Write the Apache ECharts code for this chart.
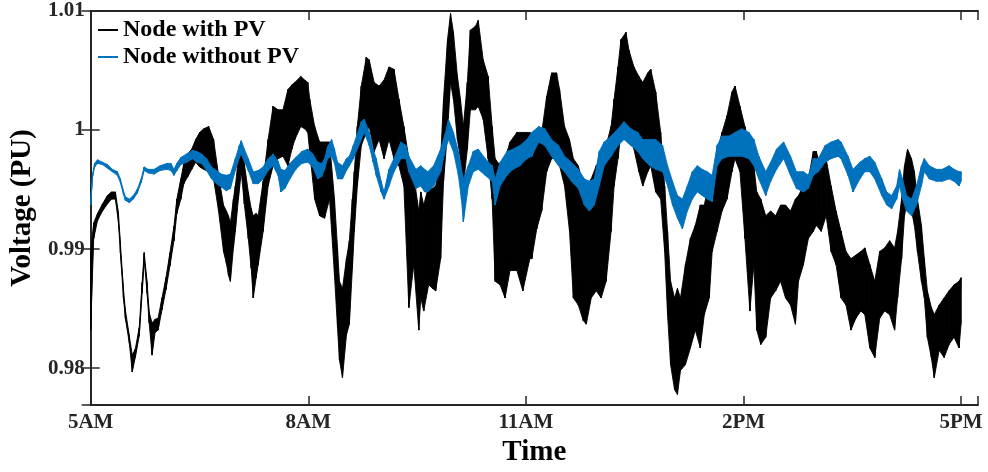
<!DOCTYPE html>
<html>
<head>
<meta charset="utf-8">
<script src="https://cdn.jsdelivr.net/npm/echarts@6/dist/echarts.min.js"></script>
<style>
html,body{margin:0;padding:0;background:#fff;}
#chart{width:988px;height:472px;}
</style>
</head>
<body>
<div id="chart"></div>
<script>
// Time in minutes after 5AM
var xTickLabels = {0:'5AM',180:'8AM',360:'11AM',540:'2PM',720:'5PM'};
var seriesNames = ['Node with PV','Node without PV'];

// Node with PV: sampled time and upper / lower envelope of the noisy trace (PU)
var blackT = [0,2.5,5.7,9.8,13.9,17.2,20.5,23.0,24.6,27.1,
28.7,32.0,34.4,36.9,40.2,42.6,44.3,46.7,48.4,50.8,
53.3,55.8,59.0,62.3,65.6,68.9,71.3,74.6,77.1,80.4,
83.6,86.9,90.2,93.5,97.6,101.7,105.8,109.9,112.3,114.0,
115.6,118.1,119.7,122.2,124.6,127.1,130.4,132.8,134.5,136.9,
138.6,142.7,146.8,150.9,155.0,159.1,163.2,166.5,168.9,173.8,
177.1,179.6,181.2,185.3,189.4,193.5,197.6,201.7,204.2,205.8,
208.3,211.6,214.0,216.5,218.1,220.6,223.9,228.0,230.4,234.5,
238.6,242.7,246.8,250.9,255.0,259.1,263.2,267.3,271.4,273.1,
275.5,279.6,282.9,285.4,289.5,291.9,295.2,297.7,300.1,303.4,
305.9,308.3,311.6,314.1,318.2,320.6,324.7,328.8,332.1,334.6,
338.7,342.8,346.9,352.6,357.5,363.3,364.9,369.0,373.1,377.2,
381.3,385.4,387.9,392.0,396.1,399.3,403.4,407.5,410.0,414.1,
418.2,422.3,426.4,430.5,433.0,436.2,438.7,442.8,445.3,449.4,
453.5,456.7,460.8,463.3,467.4,471.5,474.8,477.2,479.7,483.0,
485.4,487.9,492.0,496.1,500.2,504.3,507.6,511.7,514.1,518.2,
522.3,526.4,530.5,533.0,537.1,541.2,545.3,548.6,551.0,554.3,
558.4,562.5,566.6,570.7,574.8,578.9,583.0,585.5,589.6,593.7,
597.8,600.2,604.3,608.4,612.5,616.6,620.7,624.8,628.9,633.0,
637.1,640.4,644.5,648.6,652.7,656.8,660.9,665.0,667.5,670.8,
673.2,675.7,679.0,681.4,683.9,687.2,689.6,692.1,695.4,697.8,
701.9,706.0,710.1,714.2,718.3,720.0];
var blackHi = [.9898,.9922,.9930,.9938,.9945,.9948,.9948,.9930,.9905,.9867,
.9849,.9827,.9811,.9816,.9834,.9872,.9897,.9872,.9847,.9838,
.9841,.9842,.9859,.9876,.9897,.9919,.9942,.9959,.9972,.9980,
.9984,.9992,.9998,1.0001,1.0003,.9992,.9962,.9937,.9932,.9928,
.9922,.9942,.9953,.9976,.9990,.9972,.9948,.9934,.9928,.9930,
.9928,.9957,.9992,1.0020,1.0017,1.0017,1.0034,1.0038,1.0040,1.0045,
1.0042,1.0040,1.0026,1.0003,.9990,.9990,.9990,.9942,.9901,.9873,
.9867,.9892,.9907,.9942,.9965,1.0003,1.0037,1.0061,1.0059,1.0040,
1.0037,1.0042,1.0053,1.0051,1.0026,1.0003,.9976,.9962,.9932,.9948,
.9937,.9953,.9951,.9953,.9976,1.0026,1.0076,1.0098,1.0082,1.0045,
1.0026,1.0003,1.0040,1.0084,1.0087,1.0092,1.0059,1.0045,1.0003,.9976,
.9970,.9976,.9990,.9998,.9998,.9998,.9987,.9992,.9998,1.0028,
1.0048,1.0048,1.0034,1.0003,.9992,.9976,.9970,.9953,.9953,.9959,
.9970,.9976,.9987,1.0003,1.0026,1.0053,1.0076,1.0082,1.0067,1.0053,
1.0045,1.0040,1.0048,1.0051,1.0032,.9998,.9953,.9915,.9873,.9859,
.9867,.9859,.9887,.9909,.9920,.9937,.9937,.9957,.9957,.9982,
.9998,1.0012,1.0032,1.0037,1.0020,1.0003,.9984,.9970,.9948,.9942,
.9928,.9932,.9928,.9937,.9937,.9932,.9942,.9945,.9953,.9959,
.9982,.9982,.9967,.9976,.9953,.9932,.9915,.9898,.9892,.9895,
.9898,.9901,.9887,.9873,.9898,.9901,.9907,.9901,.9915,.9942,
.9970,.9984,.9976,.9965,.9942,.9920,.9892,.9865,.9851,.9845,
.9853,.9859,.9865,.9870,.9873,.9876];
var blackLo = [.9832,.9909,.9924,.9932,.9938,.9942,.9942,.9922,.9897,.9859,
.9842,.9821,.9797,.9809,.9827,.9863,.9891,.9863,.9838,.9811,
.9830,.9832,.9849,.9866,.9886,.9907,.9930,.9942,.9955,.9961,
.9967,.9973,.9969,.9967,.9965,.9959,.9932,.9898,.9888,.9878,
.9873,.9901,.9915,.9942,.9965,.9938,.9909,.9884,.9859,.9876,
.9887,.9915,.9953,.9970,.9976,.9978,.9970,.9984,.9992,1.0003,
1.0001,.9998,.9982,.9942,.9928,.9926,.9942,.9878,.9834,.9807,
.9792,.9828,.9837,.9884,.9915,.9953,.9987,.9998,1.0003,.9982,
.9992,.9976,.9992,.9976,.9970,.9953,.9851,.9887,.9832,.9859,
.9848,.9870,.9867,.9865,.9892,.9957,.9998,1.0040,1.0026,.9992,
.9976,.9953,.9984,1.0017,1.0017,1.0020,1.0009,.9976,.9942,.9873,
.9870,.9859,.9882,.9882,.9865,.9892,.9892,.9917,.9932,.9965,
.9976,.9978,.9970,.9953,.9915,.9859,.9853,.9840,.9837,.9859,
.9865,.9859,.9873,.9915,.9953,.9976,.9998,1.0003,.9998,.9984,
.9965,.9953,.9965,.9970,.9948,.9942,.9898,.9845,.9803,.9782,
.9778,.9798,.9803,.9817,.9832,.9817,.9845,.9859,.9898,.9915,
.9932,.9942,.9965,.9976,.9965,.9909,.9848,.9887,.9832,.9820,
.9826,.9859,.9865,.9873,.9859,.9853,.9837,.9873,.9887,.9909,
.9915,.9920,.9915,.9928,.9898,.9887,.9859,.9853,.9832,.9842,
.9848,.9845,.9817,.9809,.9842,.9848,.9845,.9832,.9859,.9892,
.9928,.9942,.9932,.9920,.9898,.9873,.9859,.9826,.9809,.9792,
.9815,.9809,.9820,.9826,.9817,.9837];

// Node without PV: sampled time and upper / lower envelope (PU)
var blueT = [0,1.6,3.3,5.7,9.8,13.9,18.0,22.1,24.6,27.1,
28.7,32.0,35.3,38.5,41.8,44.3,47.6,52.5,57.4,63.1,
66.4,68.9,71.3,74.6,79.5,84.5,87.7,91.8,95.9,100.0,
104.1,108.2,112.3,115.6,119.7,123.0,124.6,127.1,130.4,134.5,
138.6,142.7,146.8,150.9,155.0,157.4,160.7,164.8,169.7,174.7,
179.6,183.7,187.8,191.1,193.5,196.0,199.3,201.7,204.2,208.3,
211.6,214.0,217.3,220.6,223.9,226.3,230.4,233.7,236.2,240.3,
242.7,246.8,250.9,256.7,260.8,263.2,269.0,273.1,276.3,278.8,
283.7,289.5,293.6,296.0,300.1,304.2,306.7,308.3,312.4,316.5,
320.6,326.4,332.1,334.6,338.7,344.4,349.3,355.1,360.8,364.9,
370.6,375.6,381.3,387.0,392.0,397.7,403.4,408.4,412.5,416.6,
420.7,424.8,430.5,436.2,441.2,446.9,452.6,456.7,462.5,467.4,
473.1,477.2,481.3,485.4,489.5,493.6,497.7,501.8,505.9,510.0,
514.1,518.2,522.3,528.1,533.0,538.7,544.5,548.6,552.7,558.4,
562.5,567.4,573.2,578.9,583.8,589.6,593.7,597.8,601.9,607.6,
612.5,618.3,620.7,626.5,630.6,636.3,640.4,644.5,648.6,654.4,
658.5,662.6,666.7,669.1,671.6,674.9,679.0,683.1,687.2,689.6,
693.7,699.5,704.4,710.1,714.2,718.3,720.0];
var blueHi = [.9937,.9963,.9972,.9975,.9973,.9971,.9967,.9965,.9959,.9949,
.9944,.9942,.9945,.9950,.9959,.9969,.9967,.9967,.9970,.9972,
.9972,.9967,.9972,.9977,.9980,.9983,.9982,.9980,.9976,.9969,
.9966,.9963,.9962,.9963,.9976,.9987,.9991,.9984,.9976,.9965,
.9966,.9969,.9976,.9980,.9974,.9967,.9966,.9972,.9977,.9982,
.9984,.9980,.9973,.9972,.9976,.9986,.9992,.9984,.9973,.9970,
.9976,.9978,.9987,.9997,1.0007,1.0009,.9998,.9984,.9976,.9957,
.9948,.9967,.9976,.9990,.9987,.9978,.9967,.9970,.9967,.9965,
.9970,.9984,.9998,1.0009,.9998,.9982,.9967,.9959,.9970,.9982,
.9984,.9976,.9970,.9959,.9973,.9982,.9984,.9987,.9992,.9998,
1.0003,1.0001,.9992,.9987,.9978,.9973,.9967,.9959,.9957,.9959,
.9982,.9990,.9995,1.0001,1.0007,1.0001,.9998,.9992,.9992,.9992,
.9987,.9970,.9957,.9945,.9942,.9953,.9965,.9970,.9967,.9965,
.9962,.9987,.9995,.9995,.9998,1.0001,.9998,.9992,.9978,.9965,
.9973,.9984,.9990,.9978,.9965,.9965,.9962,.9976,.9976,.9987,
.9990,.9992,.9990,.9978,.9967,.9973,.9976,.9978,.9973,.9959,
.9948,.9945,.9953,.9967,.9959,.9945,.9942,.9953,.9970,.9976,
.9970,.9967,.9967,.9970,.9967,.9965,.9965];
var blueLo = [.9937,.9961,.9969,.9972,.9971,.9968,.9965,.9962,.9956,.9946,
.9941,.9939,.9942,.9947,.9956,.9966,.9964,.9963,.9966,.9967,
.9966,.9962,.9966,.9971,.9973,.9976,.9973,.9972,.9966,.9959,
.9955,.9952,.9949,.9951,.9966,.9977,.9980,.9974,.9966,.9955,
.9955,.9959,.9966,.9970,.9962,.9948,.9951,.9959,.9967,.9972,
.9973,.9969,.9959,.9961,.9967,.9976,.9978,.9972,.9959,.9959,
.9966,.9970,.9976,.9984,.9992,.9998,.9987,.9973,.9962,.9948,
.9942,.9953,.9965,.9976,.9976,.9965,.9951,.9953,.9948,.9948,
.9953,.9965,.9984,.9992,.9982,.9962,.9942,.9923,.9953,.9965,
.9967,.9962,.9957,.9937,.9953,.9962,.9967,.9970,.9976,.9978,
.9990,.9987,.9978,.9970,.9965,.9957,.9951,.9937,.9932,.9937,
.9953,.9970,.9978,.9987,.9992,.9987,.9982,.9976,.9970,.9967,
.9965,.9953,.9937,.9926,.9917,.9932,.9942,.9948,.9945,.9942,
.9940,.9970,.9976,.9978,.9978,.9978,.9976,.9970,.9959,.9945,
.9957,.9967,.9976,.9962,.9951,.9948,.9951,.9962,.9965,.9973,
.9976,.9978,.9976,.9962,.9948,.9959,.9965,.9965,.9959,.9945,
.9937,.9934,.9942,.9953,.9942,.9932,.9928,.9937,.9953,.9965,
.9959,.9957,.9957,.9959,.9957,.9953,.9957];

var FONT = 'Liberation Serif';
var BLACK = '#000000';
var BLUE = '#0072BD';
var AXIS = '#262626';

function bandData(t, hi, lo) {
  var n = Math.min(t.length, hi.length, lo.length), out = [];
  for (var i = 0; i < n - 1; i++) out.push([t[i], hi[i], lo[i], t[i+1], hi[i+1], lo[i+1]]);
  return out;
}
function zigzag(t, hi, lo) {
  var n = Math.min(t.length, hi.length, lo.length), out = [];
  for (var i = 0; i < n; i++) { out.push([t[i], hi[i]]); out.push([t[i], lo[i]]); }
  return out;
}
function bandRenderer(color) {
  return function (params, api) {
    var a = api.coord([api.value(0), api.value(1)]);
    var b = api.coord([api.value(3), api.value(4)]);
    var c = api.coord([api.value(3), api.value(5)]);
    var d = api.coord([api.value(0), api.value(2)]);
    return {type: 'polygon', shape: {points: [a, b, c, d]},
      style: {fill: color, stroke: color, lineWidth: 0.9}};
  };
}

var chart = echarts.init(document.getElementById('chart'), null, {renderer: 'canvas'});
var tickLabelStyle = {fontFamily: FONT, fontWeight: 'bold', fontSize: 21, color: AXIS};
chart.setOption({
  animation: false,
  backgroundColor: '#fff',
  grid: {left: 83, right: 10, top: 11, bottom: 65, containLabel: false},
  legend: {
    data: seriesNames, orient: 'vertical', left: 98, top: 18, padding: 0,
    itemGap: 3, itemWidth: 20, itemHeight: 2, icon: 'rect',
    textStyle: {fontFamily: FONT, fontWeight: 'bold', fontSize: 24, color: '#000', lineHeight: 24}
  },
  xAxis: [{
    type: 'value', min: 0, max: 734, interval: 180, position: 'bottom',
    axisLine: {show: true, lineStyle: {color: AXIS, width: 2}},
    axisTick: {show: true, inside: true, length: 9, lineStyle: {color: AXIS, width: 1.5}},
    axisLabel: Object.assign({margin: 7, formatter: function (v) { return xTickLabels[v] || ''; }}, tickLabelStyle),
    splitLine: {show: false},
    name: 'Time', nameLocation: 'middle', nameGap: 30,
    nameTextStyle: {fontFamily: FONT, fontWeight: 'bold', fontSize: 29, color: '#000'}
  }, {
    type: 'value', min: 0, max: 734, interval: 180, position: 'top',
    axisLine: {show: true, lineStyle: {color: AXIS, width: 2}},
    axisTick: {show: true, inside: true, length: 9, lineStyle: {color: AXIS, width: 1.5}},
    axisLabel: {show: false}, splitLine: {show: false}
  }],
  yAxis: [{
    type: 'value', min: 0.9769, max: 1.01, minInterval: 0.01, maxInterval: 0.01, position: 'left',
    axisLine: {show: true, lineStyle: {color: AXIS, width: 2}},
    axisTick: {show: true, inside: true, length: 9, lineStyle: {color: AXIS, width: 1.5}},
    axisLabel: Object.assign({margin: 6, formatter: function (v) {
      var r = Math.round(v * 100);
      return Math.abs(v * 100 - r) < 1e-6 ? String(r / 100) : '';
    }}, tickLabelStyle),
    splitLine: {show: false},
    name: 'Voltage (PU)', nameLocation: 'middle', nameGap: 46,
    nameTextStyle: {fontFamily: FONT, fontWeight: 'bold', fontSize: 29, color: '#000'}
  }, {
    type: 'value', min: 0.9769, max: 1.01, minInterval: 0.01, maxInterval: 0.01, position: 'right',
    axisLine: {show: true, lineStyle: {color: AXIS, width: 2}},
    axisTick: {show: true, inside: true, length: 9, lineStyle: {color: AXIS, width: 1.5}},
    axisLabel: {show: false}, splitLine: {show: false}
  }],
  series: [
    {type: 'custom', name: 'band-pv', xAxisIndex: 0, yAxisIndex: 0, clip: true,
     renderItem: bandRenderer(BLACK), encode: {x: [0, 3], y: [1, 2, 4, 5]},
     data: bandData(blackT, blackHi, blackLo), silent: true, z: 2},
    {type: 'line', name: seriesNames[0], xAxisIndex: 0, yAxisIndex: 0,
     data: zigzag(blackT, blackHi, blackLo), showSymbol: false, symbol: 'none',
     itemStyle: {color: BLACK}, lineStyle: {color: BLACK, width: 0.8}, z: 3, silent: true},
    {type: 'custom', name: 'band-nopv', xAxisIndex: 0, yAxisIndex: 0, clip: true,
     renderItem: bandRenderer(BLUE), encode: {x: [0, 3], y: [1, 2, 4, 5]},
     data: bandData(blueT, blueHi, blueLo), silent: true, z: 4},
    {type: 'line', name: seriesNames[1], xAxisIndex: 0, yAxisIndex: 0,
     data: zigzag(blueT, blueHi, blueLo), showSymbol: false, symbol: 'none',
     itemStyle: {color: BLUE}, lineStyle: {color: BLUE, width: 1}, z: 5, silent: true}
  ]
});
</script>
</body>
</html>
